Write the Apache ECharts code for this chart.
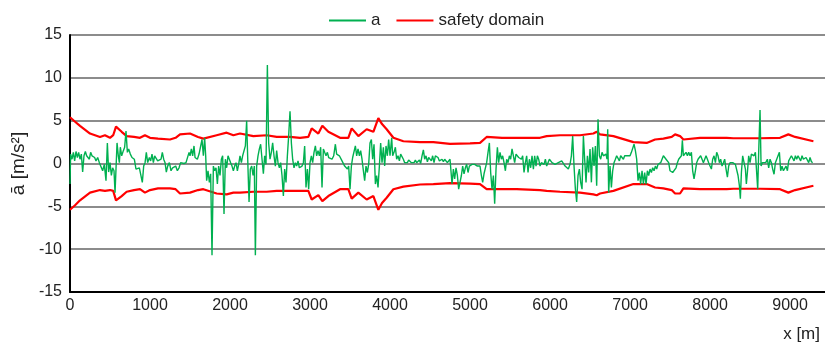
<!DOCTYPE html>
<html>
<head>
<meta charset="utf-8">
<script src="https://cdn.jsdelivr.net/npm/echarts@6/dist/echarts.min.js"></script>
<style>
  html, body { margin: 0; padding: 0; background: #fff; }
  #chart { width: 825px; height: 346px; }
</style>
</head>
<body>
<div id="chart"></div>
<script>
// axis ranges
const xRange = [0, 9437];
const yRange = [-15, 15];

// measured acceleration, [x in m, a in m/s2]
const accelPoints = [
  [0,-2.4],[8,1.1],[25,0.5],[42,1.3],[58,0.3],[75,1.4],[92,0.7],[108,1.3],[125,0.5],[142,1.1],
  [158,-1.0],[175,0.9],[192,1.4],[208,0.9],[225,1.1],[242,0.5],[258,1.3],[275,0.9],[292,1.1],[308,0.7],
  [325,0.3],[346,0.7],[367,0.1],[388,0.3],[408,-0.85],[429,-0.1],[450,-2.0],[467,2.4],[483,-1.0],[500,0.1],
  [517,-1.4],[533,-0.5],[550,-0.85],[563,-3.4],[575,-0.65],[588,2.4],[604,0.9],[617,0.1],[629,1.9],[646,0.9],
  [667,1.5],[683,1.9],[700,3.8],[717,1.3],[733,1.7],[754,1.1],[775,0.7],[804,0.5],[825,-0.65],[846,-0.85],
  [867,-0.5],[888,-0.65],[904,-2.2],[921,-0.3],[938,0.1],[954,1.3],[971,0.1],[992,0.7],[1008,0.3],[1025,1.1],
  [1042,0.1],[1058,0.9],[1075,1.1],[1096,0.3],[1117,0.1],[1138,0.5],[1154,1.3],[1171,0.5],[1188,0.1],[1204,-1.0],
  [1221,-0.3],[1242,0.1],[1263,-0.85],[1283,-0.5],[1304,-0.3],
  [1321,-0.3],[1342,-0.85],[1363,-0.5],[1383,0.1],[1404,0.2],[1425,0.0],[1450,0.1],[1467,0.3],[1488,1.3],[1500,0.9],
  [1517,1.7],[1533,0.9],[1550,2.05],[1563,0.7],[1579,0.9],[1592,0.5],[1613,1.1],[1633,0.9],[1650,2.8],[1667,0.9],
  [1683,3.0],[1696,0.9],[1708,-2.0],[1725,-0.85],[1742,-2.2],[1758,-1.2],[1775,-10.7],[1792,-0.3],[1808,-0.85],[1825,-0.5],
  [1842,-2.4],[1858,-0.3],[1875,-1.4],[1892,0.5],[1908,0.9],[1925,-5.9],[1942,0.5],[1958,-0.5],[1975,0.9],[1992,1.1],
  [2008,0.1],[2025,-0.3],[2042,-0.85],[2058,-0.3],[2075,0.1],[2092,-0.85],[2108,-0.1],[2125,0.9],[2142,0.1],[2158,0.9],
  [2175,1.1],[2192,2.05],[2208,5.0],[2225,-0.65],[2238,-4.5],[2254,-0.65],[2271,-0.3],[2288,-1.4],[2304,-0.3],[2317,-10.7],
  [2333,-0.3],[2350,0.9],[2367,1.7],[2383,2.25],[2400,2.05],[2417,-1.2],[2433,0.9],[2450,-0.1],[2467,11.5],[2483,2.4],
  [2500,0.5],[2517,1.3],[2533,2.4],[2550,0.9],[2567,-0.3],[2583,1.5],[2600,0.1],[2617,-0.5],[2633,0.1],[2650,-1.4],
  [2667,-3.8],[2683,-0.65],[2700,-2.2],[2717,0.9],[2733,3.2],[2750,6.1],[2767,2.4],[2783,0.5],[2800,-0.5],[2817,0.1],
  [2833,-0.3],[2850,0.3],[2867,-0.5],[2883,-0.65],[2900,-0.3],[2917,0.1],[2933,2.05],[2950,-2.8],[2967,-0.65],[2983,-3.0],
  [3000,0.1],[3017,0.9],[3033,0.1],[3050,1.3],[3067,2.05],[3083,0.9],[3100,1.5],[3117,0.9],[3133,1.9],[3150,-2.8],
  [3167,1.7],[3183,1.3],[3200,0.9],[3217,1.3],[3233,0.7],[3254,0.9],[3275,0.5],[3296,0.9],[3317,2.25],[3333,1.1],
  [3350,1.3],[3367,0.9],[3383,0.7],[3400,0.3],[3417,0.1],[3433,-0.3],[3450,-0.1],[3467,-0.65],[3483,-0.3],[3500,-3.0],
  [3517,-0.3],[3533,0.7],[3550,0.9],[3567,2.05],[3583,0.9],[3600,1.7],[3617,0.9],[3633,1.5],[3650,0.5],[3667,-0.85],
  [3683,-2.0],[3700,-0.3],[3717,-1.05],[3733,-0.1],[3750,2.4],[3767,2.8],[3783,0.5],[3800,2.25],[3817,-2.4],[3833,-1.4],
  [3850,-2.8],[3867,-0.3],[3883,2.4],[3900,0.1],[3917,1.9],[3933,-0.3],[3950,2.05],[3967,0.9],[3983,2.8],[4000,0.9],
  [4021,3.0],[4033,0.9],[4050,1.3],[4067,1.9],[4083,0.5],[4100,0.9],[4117,0.3],[4133,1.1],[4150,1.3],[4167,0.5],
  [4183,0.1],[4200,0.3],[4217,0.1],[4233,0.4],[4250,0.2],[4267,0.1],[4283,0.3],[4300,0.1],[4317,0.4],[4333,0.1],
  [4350,0.2],[4367,0.4],[4383,0.0],[4400,0.9],[4417,1.6],[4433,0.5],[4450,0.9],[4467,0.2],[4483,0.7],[4500,0.9],
  [4517,0.3],[4533,0.9],[4550,0.1],[4567,0.9],[4583,0.7],[4600,0.7],[4617,0.3],[4633,0.1],[4650,0.5],[4667,0.2],
  [4683,0.5],[4700,0.4],[4717,0.1],[4733,0.3],[4750,0.5],[4767,0.3],[4775,-2.4],[4792,-0.65],[4808,-1.8],[4825,-0.5],
  [4842,-1.4],[4858,-3.0],[4875,-2.2],[4892,-1.4],[4908,-0.3],[4925,-1.2],[4942,-0.5],[4958,-0.1],[4975,-1.05],[4992,-0.3],
  [5008,-0.1],[5025,-0.1],[5042,-0.1],[5058,-0.1],[5075,-0.2],[5092,-0.3],[5108,-0.1],[5125,-0.3],[5142,-1.4],[5158,-2.2],
  [5175,-1.2],[5192,-1.4],[5208,0.1],[5225,1.3],[5242,2.4],[5258,-1.05],[5275,-3.0],[5292,-1.4],[5308,-4.7],[5325,-0.65],
  [5342,1.9],[5358,0.1],[5375,1.3],[5392,0.5],[5408,0.9],[5425,0.1],[5442,-0.85],[5458,0.5],[5475,0.1],[5492,0.9],
  [5508,0.5],[5525,1.7],[5542,0.9],[5558,0.1],[5575,1.1],[5592,0.9],[5608,0.7],[5625,0.9],[5642,0.5],[5658,0.9],
  [5675,-1.05],[5692,0.1],[5708,0.9],[5725,-1.05],[5742,0.5],[5758,-0.5],[5775,0.9],[5792,-0.65],[5808,0.9],[5825,-0.3],
  [5842,0.9],[5858,0.5],[5875,-0.3],[5892,0.1],[5908,0.1],[5925,-0.1],[5942,0.5],[5958,-0.3],[5975,0.1],[5992,0.5],
  [6008,0.3],[6025,0.1],[6042,0.1],[6063,-0.1],[6083,-0.3],[6104,0.1],[6125,-0.1],[6146,0.3],[6167,0.1],[6188,-0.3],
  [6208,-0.5],[6229,-0.65],[6250,-0.1],[6267,0.9],[6283,3.2],[6300,-0.3],[6317,-3.0],[6333,-4.5],[6350,-1.4],[6367,-0.65],
  [6383,-2.2],[6400,-3.0],[6417,3.2],[6433,0.5],[6450,-2.2],[6467,0.9],[6483,-1.05],[6500,1.7],[6517,-2.2],[6533,1.9],
  [6550,-0.3],[6567,2.05],[6583,-2.6],[6600,5.15],[6617,0.9],[6633,0.5],[6650,1.3],[6667,0.9],[6683,0.7],[6700,1.1],
  [6712,0.5],[6721,4.0],[6733,-3.4],[6750,-0.3],[6767,-2.8],[6783,-0.85],[6800,0.1],[6817,0.5],[6833,0.9],[6850,0.7],
  [6867,0.3],[6883,0.9],[6900,0.7],[6917,0.5],[6933,0.9],[6950,0.7],[6967,0.9],[6983,0.7],[7000,0.9],[7017,1.3],
  [7033,1.3],[7050,2.25],[7067,1.5],[7083,0.5],[7100,-2.0],[7117,-1.05],[7133,-2.4],[7150,-0.85],[7167,-2.4],[7183,-1.05],
  [7200,-2.4],[7217,-0.85],[7233,-1.4],[7250,-0.65],[7267,-1.05],[7283,-0.5],[7300,-0.85],[7317,-0.3],[7333,-0.65],[7350,-0.1],
  [7367,-0.3],[7383,0.1],[7400,0.3],[7417,0.9],[7433,1.0],[7450,0.5],[7467,0.7],[7483,0.1],[7500,-0.85],[7517,-1.05],
  [7533,-1.05],[7554,-0.85],[7575,-0.5],[7592,0.1],[7608,0.5],[7625,0.7],[7642,0.9],[7654,2.7],[7667,0.9],[7683,1.1],
  [7700,1.3],[7717,0.9],[7733,1.3],[7750,0.9],[7767,1.3],[7783,-0.85],[7800,-1.8],[7817,-0.85],[7833,0.1],[7850,0.5],
  [7867,0.5],[7883,0.9],[7900,0.5],[7917,0.1],[7933,-0.1],[7950,0.9],[7967,0.5],[7983,0.1],[8000,-0.3],[8017,-0.65],
  [8033,0.5],[8050,0.9],[8067,0.1],[8083,1.3],[8100,0.9],[8117,0.1],[8133,0.5],[8150,-0.3],[8167,0.1],[8183,0.5],
  [8200,-0.65],[8217,-1.6],[8233,-0.3],[8250,0.1],[8267,0.3],[8283,0.1],[8300,0.1],[8317,-0.1],[8333,-0.3],[8350,-1.4],
  [8367,-2.6],[8379,-4.1],[8392,-1.05],[8408,0.9],[8425,1.1],[8442,-0.65],[8454,-2.4],[8467,-1.05],[8483,0.9],[8500,0.1],
  [8517,1.1],[8533,1.3],[8550,0.9],[8567,1.3],[8583,1.3],[8596,-3.0],[8608,1.3],[8625,6.25],[8638,-0.3],[8654,0.1],
  [8675,-0.1],[8696,0.1],[8717,0.5],[8733,-0.5],[8750,0.5],[8767,0.1],[8783,-0.65],[8800,-1.25],[8817,0.1],[8833,0.3],
  [8850,0.9],[8867,1.3],[8883,-0.85],[8900,-0.3],[8917,-0.85],[8933,-0.65],[8950,-0.3],[8967,-0.85],[8983,0.3],[9000,0.5],
  [9017,0.9],[9033,0.7],[9050,0.3],[9067,0.9],[9083,0.5],[9100,0.9],[9117,0.7],[9133,0.3],[9150,0.9],[9167,0.5],
  [9183,0.3],[9200,0.7],[9217,0.5],[9233,0.1],[9250,0.7],[9267,0.2],[9283,0.1]
];

// safety domain envelope
const safetyX = [
  0, 60, 125, 250, 375, 437, 500, 540, 575, 646, 708, 800, 875, 937, 1000, 1100, 1250, 1320, 1375, 1500,
  1600, 1667, 1833, 1958, 2042, 2125, 2292, 2458, 2583, 2750, 2875, 2979, 3021, 3104, 3154, 3229, 3375, 3479, 3521, 3604,
  3708, 3792, 3854, 3900, 3958, 4042, 4167, 4375, 4542, 4750, 5000, 5125, 5208, 5400, 5583, 5875, 5958, 6125, 6375, 6542,
  6583, 6625, 6792, 7042, 7208, 7313, 7417, 7521, 7563, 7625, 7667, 7875, 8208, 8292, 8625, 8875, 8979, 9063, 9292
];
const safetyUpper = [
  5.4, 4.9, 4.4, 3.5, 3.1, 3.3, 3.0, 3.3, 4.3, 3.7, 3.2, 3.1, 3.0, 3.3, 3.0, 2.9, 2.8, 3.0, 3.4, 3.5,
  3.1, 2.9, 3.3, 3.6, 3.3, 3.5, 3.2, 3.3, 3.1, 3.1, 3.0, 3.1, 4.1, 3.5, 4.4, 3.7, 3.0, 3.0, 4.1, 3.2,
  4.0, 3.7, 5.3, 4.6, 4.0, 3.0, 2.6, 2.5, 2.5, 2.3, 2.35, 2.4, 3.1, 3.0, 3.0, 3.0, 3.2, 3.3, 3.3, 3.5,
  3.7, 3.4, 3.2, 2.5, 2.4, 2.8, 2.9, 3.1, 3.4, 3.2, 2.8, 3.0, 3.0, 2.95, 2.95, 3.0, 3.4, 3.1, 2.6
];
const safetyLower = [
  -5.4, -4.9, -4.3, -3.4, -3.1, -3.2, -3.1, -3.2, -4.3, -3.8, -3.3, -3.1, -3.0, -3.4, -3.1, -2.9, -2.9, -3.0, -3.5, -3.4,
  -3.1, -3.0, -3.5, -3.6, -3.4, -3.4, -3.3, -3.3, -3.2, -3.2, -3.2, -3.2, -4.2, -3.7, -4.4, -3.8, -3.0, -3.0, -4.1, -3.4,
  -4.2, -3.8, -5.4, -4.6, -4.0, -3.0, -2.7, -2.45, -2.4, -2.3, -2.35, -2.4, -3.0, -3.0, -3.0, -3.1, -3.2, -3.3, -3.4, -3.6,
  -3.7, -3.5, -3.2, -2.4, -2.4, -2.8, -2.9, -3.1, -3.5, -3.5, -2.9, -3.0, -3.0, -2.95, -2.95, -3.0, -3.4, -3.1, -2.6
];

const font = "'Liberation Sans', Arial, sans-serif";
const textColor = "#222";
const greenColor = "#00b050";
const redColor = "#ff0000";

const chart = echarts.init(document.getElementById("chart"), null, { renderer: "canvas" });

chart.setOption({
  animation: false,
  backgroundColor: "#fff",
  textStyle: { fontFamily: font, color: textColor },
  grid: { left: 70, right: 0, top: 35, bottom: 54, containLabel: false },
  legend: {
    data: ["a", "safety domain"],
    icon: "rect",
    left: 324,
    top: 7,
    itemWidth: 37,
    itemHeight: 2,
    itemGap: 16,
    textStyle: { fontSize: 17, color: textColor, fontFamily: font },
  },
  graphic: [
    {
      type: "text",
      right: 5,
      top: 326,
      style: { text: "x [m]", fontSize: 17, fontFamily: font, fill: textColor },
    },
  ],
  xAxis: {
    type: "value",
    min: xRange[0],
    max: xRange[1],
    interval: 1000,
    axisLine: { onZero: false, lineStyle: { color: "#000", width: 2 } },
    axisTick: { show: false },
    splitLine: { show: false },
    axisLabel: {
      fontSize: 16,
      color: textColor,
      margin: 6,
      showMaxLabel: false,
      formatter: (v) => (v % 1000 === 0 ? String(v) : ""),
    },
  },
  yAxis: {
    type: "value",
    min: yRange[0],
    max: yRange[1],
    interval: 5,
    name: "ā [m/s²]",
    nameLocation: "middle",
    nameGap: 38,
    nameTextStyle: { fontSize: 19, color: textColor, fontFamily: font },
    axisLine: { show: true, lineStyle: { color: "#000", width: 2 } },
    axisTick: { show: false },
    axisLabel: { fontSize: 16, color: textColor, margin: 8 },
    splitLine: { lineStyle: { color: "#8c8c8c", width: 2 } },
  },
  series: [
    {
      name: "safety domain",
      type: "line",
      symbol: "none",
      data: safetyX.map((x, i) => [x, safetyUpper[i]]),
      lineStyle: { color: redColor, width: 2.2 },
      itemStyle: { color: redColor },
      z: 2,
    },
    {
      name: "safety domain",
      type: "line",
      symbol: "none",
      data: safetyX.map((x, i) => [x, safetyLower[i]]),
      lineStyle: { color: redColor, width: 2.2 },
      itemStyle: { color: redColor },
      z: 2,
    },
    {
      name: "a",
      type: "line",
      symbol: "none",
      data: accelPoints,
      lineStyle: { color: greenColor, width: 1.4 },
      itemStyle: { color: greenColor },
      z: 3,
    },
  ],
});
</script>
</body>
</html>
